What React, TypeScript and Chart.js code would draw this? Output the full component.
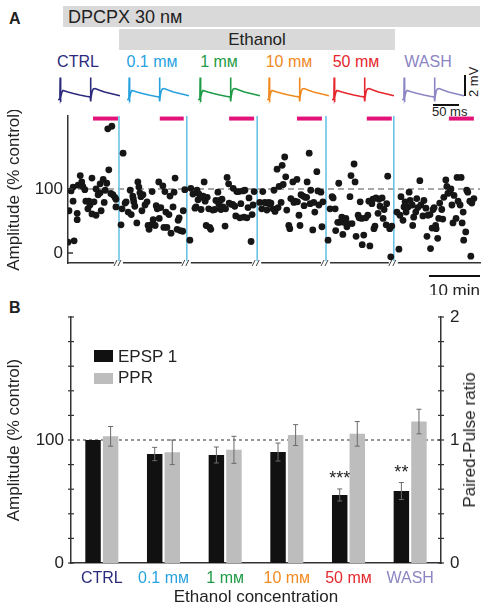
import React, { useEffect, useRef } from "react";
import { Chart, registerables } from "chart.js";
Chart.register(...registerables);

const FONT = "'Liberation Sans', Arial, Helvetica, sans-serif";
const TEXT = "#222";

// ---------- shared categories ----------
const CONDITIONS = ["CTRL", "0.1 mм", "1 mм", "10 mм", "50 mм", "WASH"];
const CONDITION_COLORS = ["#2b2a7c", "#27a2df", "#1e9b46", "#f0891f", "#e5262d", "#8b86c3"];

// ---------- panel A : EPSP traces (time ms, mV) ----------
const TRACE_T = [0, 3, 3.5, 4, 4.5, 6, 8, 11, 16, 25, 35, 45, 52, 52.5, 53, 53.5, 55, 57, 60, 66, 75, 85, 95, 100];
const TRACE_MV = [0.1, 0.1, 2.3, -0.15, 0.3, 0.8, 1.0, 0.95, 0.85, 0.7, 0.55, 0.42, 0.35, 2.3, -0.1, 0.4, 0.9, 1.15, 1.2, 1.05, 0.85, 0.7, 0.55, 0.48];

// ---------- panel A : amplitude time course ([minutes, % control]) ----------
const SEG_CTRL = [[0.0,17],[1.2,19],[0.2,66],[0.6,97],[1.0,103],[1.0,81],[1.8,52],[1.8,62],[2.0,106],[2.4,121],[2.7,111],[2.9,104],[3.3,99],[3.5,81],[4.1,81],[3.9,69],[4.3,75],[4.7,117],[4.7,61],[5.1,80],[5.5,100],[5.5,59],[5.9,91],[6.3,94],[6.5,66],[6.3,108],[6.9,115],[7.1,79],[7.3,98],[7.6,109],[8.0,130],[7.8,194],[8.6,198],[8.4,93],[8.8,91],[9.2,87],[9.4,84],[9.4,72]];
const SEG_01 = [[10.8,156],[10.6,69],[10.4,44],[11.2,78],[11.4,80],[11.8,64],[12.2,98],[12.4,60],[12.7,89],[12.8,85],[12.9,80],[13.1,73],[13.5,47],[13.7,111],[13.9,103],[14.1,94],[14.3,88],[14.5,66],[14.7,91],[15.1,75],[15.5,80],[15.7,43],[15.9,37],[16.3,44],[16.5,96],[16.7,52],[17.1,43],[17.3,74],[17.5,69],[17.8,111],[17.9,54],[18.2,71],[18.6,105],[18.8,40],[19.0,96],[19.2,64],[19.4,40],[19.8,60],[20.0,89],[20.2,31],[20.6,72],[20.8,95],[21.0,117],[21.4,37],[21.6,51],[21.8,55],[22.0,35],[22.5,34],[22.6,66],[22.9,99]];
const SEG_1 = [[24.1,101],[23.9,20],[24.5,92],[24.9,70],[25.1,72],[25.3,98],[25.5,83],[25.7,92],[26.1,68],[26.0,87],[26.5,89],[26.7,111],[26.9,81],[27.1,43],[27.3,87],[27.6,69],[27.8,40],[28.0,37],[28.4,67],[28.8,68],[29.0,82],[29.4,95],[29.6,76],[29.8,82],[30.0,68],[30.2,84],[30.4,72],[30.8,42],[30.9,69],[31.2,118],[31.6,78],[31.5,108],[32.0,76],[32.4,101],[32.3,76],[32.7,73],[32.9,58],[33.1,96],[33.5,96],[33.7,55],[33.9,77],[34.3,97],[34.5,56],[34.7,98],[35.1,55],[35.3,71],[35.5,86],[35.9,18],[36.1,60],[36.3,75],[36.5,96]];
const SEG_10 = [[37.6,79],[38.0,69],[38.2,96],[38.6,79],[38.8,78],[39.0,67],[39.4,79],[39.6,76],[39.8,78],[40.2,69],[40.4,98],[40.6,65],[41.0,131],[41.2,71],[41.4,104],[41.8,79],[42.0,137],[42.2,107],[42.5,150],[42.7,119],[42.9,67],[43.3,43],[43.5,38],[43.7,85],[44.1,111],[44.3,79],[44.5,81],[44.9,115],[45.0,80],[45.3,59],[45.5,43],[45.7,91],[46.1,89],[46.3,74],[46.5,87],[46.9,111],[46.8,87],[47.3,156],[47.5,77],[47.6,98],[48.0,36],[48.2,79],[48.4,64],[48.8,127],[49.0,97],[49.2,75],[49.6,95],[49.8,41],[50.0,80]];
const SEG_50 = [[51.0,20],[51.4,69],[51.8,88],[52.0,86],[52.4,69],[52.5,35],[52.9,48],[53.1,109],[53.3,48],[53.7,56],[53.9,29],[54.1,48],[54.5,54],[54.7,41],[54.9,46],[55.3,88],[55.5,121],[55.7,46],[56.1,139],[56.3,111],[56.5,26],[56.9,59],[57.1,55],[57.3,80],[57.6,54],[57.7,13],[58.0,28],[58.4,55],[58.8,59],[59.0,81],[59.2,11],[59.6,77],[59.8,84],[60.0,38],[60.2,42],[60.4,86],[60.8,62],[61.0,84],[61.2,73],[61.6,86],[61.8,54],[62.0,68],[62.4,44],[62.5,77],[62.7,120],[63.1,38],[63.3,-6],[63.5,42]];
const SEG_WASH = [[64.5,64],[64.9,6],[65.1,59],[65.3,88],[65.7,51],[65.9,72],[66.1,80],[66.3,64],[66.7,72],[66.9,95],[67.1,82],[67.5,75],[67.6,43],[67.8,56],[68.2,64],[68.4,85],[68.6,71],[69.0,113],[69.2,75],[69.6,58],[69.8,82],[70.2,70],[70.4,26],[70.6,59],[71.0,60],[71.1,7],[71.4,39],[71.6,68],[71.8,71],[72.2,38],[72.1,43],[72.5,23],[72.7,54],[72.9,78],[73.3,68],[73.5,53],[73.7,87],[74.1,114],[74.3,104],[74.5,93],[74.9,96],[75.1,100],[75.3,75],[75.5,47],[75.7,90],[76.1,54],[76.3,118],[76.5,81],[76.9,75],[77.1,118],[77.3,47],[77.5,64],[77.6,20],[78.0,33],[78.2,98],[78.4,95],[78.8,81],[79.0,-5],[79.2,78],[79.6,85]];
const SEGMENT_BOUNDS = [10.0, 23.3, 37.1, 50.6, 63.9];
const ANALYSIS_WINDOWS = [[4.9, 9.8], [18.0, 22.7], [31.6, 36.5], [44.9, 49.8], [58.6, 63.5], [74.7, 79.6]];
const ANALYSIS_MARK_Y = 210;
const A_X_MAX = 80.8;
const A_Y_MIN = -15.6;
const A_Y_MAX = 214;
const A_Y_TICKS = [0, 100];
const TIME_SCALE_MIN = 10;

// ---------- panel B : summary ----------
const EPSP1 = [100, 88.6, 87.8, 90.2, 55.3, 58.5];
const EPSP1_ERR = [0, 5.4, 6.5, 7.3, 4.9, 6.9];
const PPR = [1.03, 0.9, 0.92, 1.04, 1.05, 1.15];
const PPR_ERR = [0.08, 0.1, 0.11, 0.085, 0.1, 0.1];
const SIGNIFICANCE = ["", "", "", "", "***", "**"];
const SERIES_LABELS = ["EPSP 1", "PPR"];

// ---------- layout constants ----------
const TRACE_LEFTS = [58, 127, 198, 267, 332, 402];
const LABEL_CENTERS = [78, 152, 219, 289, 356, 428];

function Trace({ color, left }: { color: string; left: number }) {
  const ref = useRef<HTMLCanvasElement>(null);
  useEffect(() => {
    const chart = new Chart(ref.current!, {
      type: "line",
      data: {
        datasets: [
          {
            data: TRACE_T.map((t, i) => ({ x: t, y: TRACE_MV[i] })),
            borderColor: color,
            borderWidth: 1.6,
            pointRadius: 0,
            tension: 0,
          },
        ],
      },
      options: {
        responsive: false,
        animation: false,
        events: [],
        layout: { padding: 0 },
        plugins: { legend: { display: false }, tooltip: { enabled: false } },
        scales: {
          x: { type: "linear", min: 0, max: 100, display: false },
          y: { min: -0.35, max: 2.55, display: false },
        },
      },
    } as any);
    return () => chart.destroy();
  }, [color]);
  return <canvas ref={ref} width={62} height={29} style={{ position: "absolute", left, top: 75 }} />;
}

function TimeCourse() {
  const ref = useRef<HTMLCanvasElement>(null);
  useEffect(() => {
    const segs = [SEG_CTRL, SEG_01, SEG_1, SEG_10, SEG_50, SEG_WASH];
    const decor = {
      id: "decorA",
      afterDraw(chart: any) {
        const { ctx, chartArea } = chart;
        const xs = chart.scales.x;
        const ys = chart.scales.y;
        ctx.save();
        // inward y ticks
        ctx.strokeStyle = "#333";
        ctx.lineWidth = 1.5;
        A_Y_TICKS.forEach((v) => {
          const py = ys.getPixelForValue(v);
          ctx.beginPath();
          ctx.moveTo(chartArea.left, py);
          ctx.lineTo(chartArea.left + 5, py);
          ctx.stroke();
        });
        // axis breaks
        const by = chartArea.bottom;
        SEGMENT_BOUNDS.forEach((b) => {
          const px = xs.getPixelForValue(b);
          ctx.fillStyle = "#fff";
          ctx.fillRect(px - 5, by - 2, 9, 4);
          ctx.strokeStyle = "#444";
          ctx.lineWidth = 1;
          ctx.beginPath();
          ctx.moveTo(px - 5, by + 3);
          ctx.lineTo(px - 2, by - 3);
          ctx.moveTo(px - 1, by + 3);
          ctx.lineTo(px + 2, by - 3);
          ctx.stroke();
        });
        // 10 min scale bar
        const x2 = xs.getPixelForValue(A_X_MAX);
        const x1 = xs.getPixelForValue(A_X_MAX - TIME_SCALE_MIN);
        const sy = by + 13;
        ctx.strokeStyle = "#111";
        ctx.lineWidth = 2;
        ctx.beginPath();
        ctx.moveTo(x1, sy);
        ctx.lineTo(x2, sy);
        ctx.stroke();
        ctx.fillStyle = TEXT;
        ctx.font = `17px ${FONT}`;
        ctx.textAlign = "center";
        ctx.textBaseline = "middle";
        ctx.fillText(`${TIME_SCALE_MIN} min`, (x1 + x2) / 2, sy + 15);
        ctx.restore();
      },
    };
    const chart = new Chart(ref.current!, {
      type: "scatter",
      data: {
        datasets: [
          ...segs.map((s) => ({
            type: "scatter",
            data: s.map(([x, y]) => ({ x, y })),
            backgroundColor: "#161616",
            borderWidth: 0,
            pointRadius: 3.4,
            order: 0,
          })),
          ...SEGMENT_BOUNDS.map((b) => ({
            type: "line",
            data: [
              { x: b, y: A_Y_MIN },
              { x: b, y: A_Y_MAX },
            ],
            borderColor: "#62bfe4",
            borderWidth: 1.5,
            pointRadius: 0,
            order: 2,
          })),
          {
            type: "line",
            data: [
              { x: 0, y: 100 },
              { x: A_X_MAX, y: 100 },
            ],
            borderColor: "#8c8c8c",
            borderDash: [6, 4],
            borderWidth: 1.3,
            pointRadius: 0,
            order: 3,
          },
          ...ANALYSIS_WINDOWS.map(([a, b]) => ({
            type: "line",
            data: [
              { x: a, y: ANALYSIS_MARK_Y },
              { x: b, y: ANALYSIS_MARK_Y },
            ],
            borderColor: "#e2127a",
            borderWidth: 4,
            pointRadius: 0,
            order: 1,
            clip: false,
          })),
        ],
      },
      options: {
        responsive: false,
        animation: false,
        events: [],
        layout: { padding: { top: 6, right: 12, left: 0, bottom: 0 } },
        plugins: { legend: { display: false }, tooltip: { enabled: false } },
        scales: {
          x: {
            type: "linear",
            min: 0,
            max: A_X_MAX,
            grid: { display: false, drawTicks: false },
            ticks: { display: false },
            border: { display: true, color: "#333", width: 1.5 },
            afterFit: (s: any) => {
              s.height = 32;
              s.paddingLeft = 0;
              s.paddingRight = 0;
            },
          },
          y: {
            min: A_Y_MIN,
            max: A_Y_MAX,
            afterBuildTicks: (s: any) => {
              s.ticks = A_Y_TICKS.map((v) => ({ value: v }));
            },
            ticks: { font: { family: FONT, size: 17 }, color: TEXT, padding: 5 },
            grid: { display: false, drawTicks: false },
            border: { display: true, color: "#333", width: 1.5 },
            title: {
              display: true,
              text: "Amplitude (% control)",
              font: { family: FONT, size: 17 },
              color: TEXT,
              padding: { top: 4, bottom: 0 },
            },
            afterFit: (s: any) => {
              s.width = 68;
              s.paddingTop = 0;
              s.paddingBottom = 0;
            },
          },
        },
      },
      plugins: [decor],
    } as any);
    return () => chart.destroy();
  }, []);
  return <canvas ref={ref} width={492} height={185} style={{ position: "absolute", left: 0, top: 110 }} />;
}

function Summary() {
  const ref = useRef<HTMLCanvasElement>(null);
  useEffect(() => {
    const errs = [EPSP1_ERR, PPR_ERR];
    const behind = {
      id: "behindB",
      beforeDatasetsDraw(chart: any) {
        const { ctx, chartArea } = chart;
        const py = chart.scales.y.getPixelForValue(100);
        ctx.save();
        ctx.strokeStyle = "#333";
        ctx.lineWidth = 1;
        ctx.setLineDash([3, 3]);
        ctx.beginPath();
        ctx.moveTo(chartArea.left, py);
        ctx.lineTo(chartArea.right, py);
        ctx.stroke();
        ctx.restore();
      },
    };
    const decor = {
      id: "decorB",
      afterDraw(chart: any) {
        const { ctx, chartArea } = chart;
        ctx.save();
        // axis ticks crossing the axis line
        ctx.strokeStyle = "#333";
        ctx.lineWidth = 1.2;
        [
          [chart.scales.y, chartArea.left],
          [chart.scales.y1, chartArea.right],
        ].forEach(([sc, ax]: any) => {
          sc.ticks.forEach((t: any) => {
            const py = sc.getPixelForValue(t.value);
            ctx.beginPath();
            ctx.moveTo(ax - 3, py);
            ctx.lineTo(ax + 3, py);
            ctx.stroke();
          });
        });
        // error bars
        chart.data.datasets.forEach((ds: any, d: number) => {
          const meta = chart.getDatasetMeta(d);
          const sc = chart.scales[ds.yAxisID];
          meta.data.forEach((el: any, i: number) => {
            const v = ds.data[i];
            const e = errs[d][i];
            if (!e) return;
            const top = sc.getPixelForValue(v + e);
            const bot = sc.getPixelForValue(v - e);
            ctx.strokeStyle = "#6a6a6a";
            ctx.lineWidth = 1;
            ctx.beginPath();
            ctx.moveTo(el.x, top);
            ctx.lineTo(el.x, bot);
            ctx.moveTo(el.x - 2.5, top);
            ctx.lineTo(el.x + 2.5, top);
            ctx.moveTo(el.x - 2.5, bot);
            ctx.lineTo(el.x + 2.5, bot);
            ctx.stroke();
          });
        });
        // significance
        const meta0 = chart.getDatasetMeta(0);
        ctx.fillStyle = TEXT;
        ctx.font = `18px ${FONT}`;
        ctx.textAlign = "center";
        ctx.textBaseline = "alphabetic";
        SIGNIFICANCE.forEach((s, i) => {
          if (!s) return;
          const top = chart.scales.y.getPixelForValue(EPSP1[i] + EPSP1_ERR[i]);
          ctx.fillText(s, meta0.data[i].x, top - 5);
        });
        ctx.restore();
      },
    };
    const tickFont = { family: FONT, size: 17 };
    const chart = new Chart(ref.current!, {
      type: "bar",
      data: {
        labels: CONDITIONS,
        datasets: [
          {
            label: SERIES_LABELS[0],
            data: EPSP1,
            backgroundColor: "#111111",
            yAxisID: "y",
            barPercentage: 0.88,
            categoryPercentage: 0.57,
          },
          {
            label: SERIES_LABELS[1],
            data: PPR,
            backgroundColor: "#bdbdbd",
            yAxisID: "y1",
            barPercentage: 0.88,
            categoryPercentage: 0.57,
          },
        ],
      },
      options: {
        responsive: false,
        animation: false,
        events: [],
        layout: { padding: { top: 17, right: 0, left: 0, bottom: 0 } },
        plugins: { legend: { display: false }, tooltip: { enabled: false } },
        scales: {
          x: {
            grid: { display: false, drawTicks: false },
            border: { display: true, color: "#333", width: 1.5 },
            ticks: {
              color: (c: any) => CONDITION_COLORS[c.index],
              font: { family: FONT, size: 16 },
              padding: 6,
              autoSkip: false,
              maxRotation: 0,
            },
            title: {
              display: true,
              text: "Ethanol concentration",
              font: { family: FONT, size: 17 },
              color: TEXT,
              padding: { top: 0, bottom: 3 },
            },
            afterFit: (s: any) => {
              s.height = 48;
              s.paddingLeft = 0;
              s.paddingRight = 0;
            },
          },
          y: {
            position: "left",
            min: 0,
            max: 200,
            grid: { display: false, drawTicks: false },
            border: { display: true, color: "#333", width: 1.5 },
            ticks: {
              stepSize: 20,
              autoSkip: false,
              font: tickFont,
              color: TEXT,
              padding: 7,
              callback: (v: any) => (v === 0 || v === 100 ? String(v) : ""),
            },
            title: {
              display: true,
              text: "Amplitude (% control)",
              font: { family: FONT, size: 17 },
              color: TEXT,
              padding: { top: 4, bottom: 0 },
            },
            afterFit: (s: any) => {
              s.width = 71;
              s.paddingTop = 0;
              s.paddingBottom = 0;
            },
          },
          y1: {
            position: "right",
            min: 0,
            max: 2,
            grid: { display: false, drawTicks: false },
            border: { display: true, color: "#333", width: 1.5 },
            ticks: {
              stepSize: 0.2,
              autoSkip: false,
              font: tickFont,
              color: TEXT,
              padding: 9,
              callback: (v: any) => (Math.abs(v - Math.round(v)) < 1e-6 ? String(Math.round(v)) : ""),
            },
            afterFit: (s: any) => {
              s.width = 51;
              s.paddingTop = 0;
              s.paddingBottom = 0;
            },
          },
        },
      },
      plugins: [behind, decor],
    } as any);
    return () => chart.destroy();
  }, []);
  return <canvas ref={ref} width={492} height={311} style={{ position: "absolute", left: 0, top: 300 }} />;
}

export default function App() {
  const txt: React.CSSProperties = { position: "absolute", fontFamily: FONT, color: TEXT, whiteSpace: "nowrap" };
  return (
    <div style={{ position: "absolute", left: 0, top: 0, width: 492, height: 611, background: "#fff", overflow: "hidden" }}>
      <div style={{ ...txt, left: 9, top: 9, fontSize: 16, fontWeight: "bold", lineHeight: "20px" }}>A</div>
      <div style={{ ...txt, left: 9, top: 298, fontSize: 16, fontWeight: "bold", lineHeight: "20px" }}>B</div>

      <div style={{ position: "absolute", left: 63, top: 6, width: 417, height: 21, background: "#d9d9d9" }} />
      <div style={{ ...txt, left: 68, top: 6, fontSize: 18, lineHeight: "22px" }}>DPCPX 30 nм</div>
      <div style={{ position: "absolute", left: 119, top: 29, width: 276, height: 21, background: "#d9d9d9" }} />
      <div style={{ ...txt, left: 119, width: 276, top: 29, fontSize: 17, lineHeight: "22px", textAlign: "center" }}>Ethanol</div>

      {CONDITIONS.map((c, i) => (
        <div
          key={c}
          style={{ ...txt, left: LABEL_CENTERS[i] - 40, width: 80, top: 52, fontSize: 16, lineHeight: "20px", textAlign: "center", color: CONDITION_COLORS[i] }}
        >
          {c}
        </div>
      ))}
      {CONDITIONS.map((c, i) => (
        <Trace key={c} color={CONDITION_COLORS[i]} left={TRACE_LEFTS[i]} />
      ))}
      <div style={{ position: "absolute", left: 464, top: 75, width: 2, height: 21, background: "#111" }} />
      <div style={{ ...txt, left: 467, top: 97, fontSize: 13, lineHeight: "14px", transform: "rotate(-90deg)", transformOrigin: "0 0" }}>2 mV</div>
      <div style={{ position: "absolute", left: 433, top: 104, width: 26, height: 2, background: "#111" }} />
      <div style={{ ...txt, left: 432, top: 105, fontSize: 13, lineHeight: "13px" }}>50 ms</div>

      <TimeCourse />
      <Summary />

      <div style={{ position: "absolute", left: 94, top: 350, width: 19, height: 12, background: "#111" }} />
      <div style={{ ...txt, left: 118, top: 347, fontSize: 17, lineHeight: "20px" }}>{SERIES_LABELS[0]}</div>
      <div style={{ position: "absolute", left: 94, top: 373, width: 19, height: 11, background: "#bdbdbd" }} />
      <div style={{ ...txt, left: 118, top: 368, fontSize: 17, lineHeight: "20px" }}>{SERIES_LABELS[1]}</div>

      <div
        style={{ ...txt, left: 470, top: 440, fontSize: 17, lineHeight: "20px", transform: "translate(-50%, -50%) rotate(-90deg)", transformOrigin: "center" }}
      >
        Paired-Pulse ratio
      </div>
    </div>
  );
}
